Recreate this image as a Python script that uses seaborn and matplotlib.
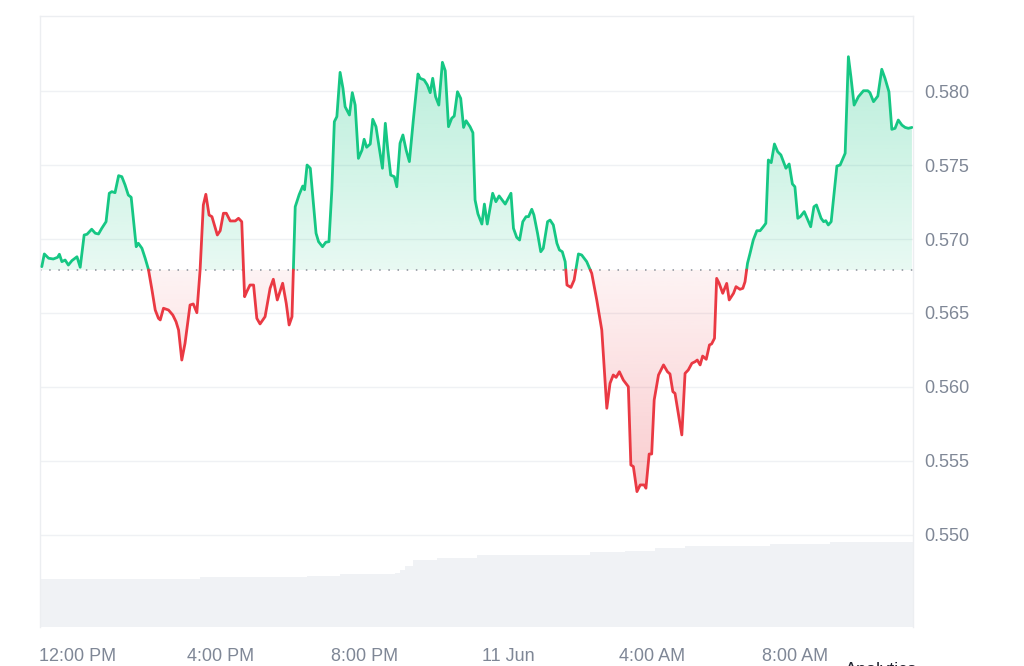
import numpy as np
import pandas as pd
import matplotlib
matplotlib.use("Agg")
import matplotlib.pyplot as plt
import matplotlib.colors as mcolors
from matplotlib.path import Path
import seaborn as sns

# hours since 10 Jun 00:00, price in USD
hours = [11.01, 11.08, 11.20, 11.33, 11.45, 11.50, 11.57, 11.66, 11.75, 11.85,
         11.99, 12.08, 12.19, 12.27, 12.40, 12.50, 12.59, 12.68, 12.80, 12.89,
         12.96, 13.05, 13.15, 13.24, 13.33, 13.42, 13.50, 13.64, 13.70, 13.80,
         13.89, 13.98, 14.08, 14.17, 14.26, 14.31, 14.40, 14.54, 14.66, 14.75,
         14.82, 14.91, 15.00, 15.14, 15.23, 15.33, 15.42, 15.51, 15.58, 15.67,
         15.75, 15.90, 15.98, 16.07, 16.15, 16.26, 16.40, 16.49, 16.58, 16.63,
         16.66, 16.72, 16.81, 16.91, 17.00, 17.09, 17.23, 17.37, 17.46, 17.57,
         17.72, 17.82, 17.90, 17.98, 18.07, 18.18, 18.28, 18.33, 18.40, 18.49,
         18.65, 18.72, 18.83, 18.92, 19.01, 19.09, 19.16, 19.23, 19.32, 19.40,
         19.46, 19.58, 19.66, 19.74, 19.83, 19.93, 19.99, 20.06, 20.16, 20.23,
         20.32, 20.42, 20.50, 20.58, 20.65, 20.73, 20.83, 20.90, 20.99, 21.07,
         21.16, 21.25, 21.36, 21.49, 21.55, 21.66, 21.75, 21.83, 21.90, 21.98,
         22.07, 22.17, 22.25, 22.34, 22.43, 22.50, 22.59, 22.68, 22.76, 22.83,
         22.94, 23.02, 23.08, 23.16, 23.27, 23.34, 23.42, 23.57, 23.66, 23.75,
         23.92, 24.08, 24.15, 24.24, 24.32, 24.41, 24.50, 24.57, 24.66, 24.72,
         24.82, 24.91, 24.98, 25.10, 25.17, 25.26, 25.36, 25.43, 25.51, 25.59,
         25.64, 25.75, 25.84, 25.96, 26.05, 26.19, 26.33, 26.47, 26.61, 26.75,
         26.84, 26.93, 27.01, 27.10, 27.21, 27.35, 27.42, 27.49, 27.59, 27.68,
         27.79, 27.84, 27.93, 28.00, 28.07, 28.19, 28.33, 28.44, 28.51, 28.59,
         28.65, 28.84, 28.93, 29.02, 29.12, 29.21, 29.27, 29.35, 29.42, 29.52,
         29.61, 29.67, 29.75, 29.81, 29.88, 29.98, 30.09, 30.16, 30.28, 30.35,
         30.46, 30.54, 30.60, 30.67, 30.74, 30.83, 30.93, 31.02, 31.11, 31.18,
         31.25, 31.33, 31.42, 31.51, 31.60, 31.74, 31.83, 31.92, 31.99, 32.07,
         32.14, 32.25, 32.43, 32.52, 32.59, 32.72, 32.79, 32.85, 32.92, 33.00,
         33.16, 33.25, 33.39, 33.48, 33.55, 33.64, 33.76, 33.90, 34.02, 34.08,
         34.18, 34.30, 34.41, 34.50, 34.61, 34.69, 34.78, 34.87, 34.97, 35.06,
         35.15, 35.25]
price = [0.56813, 0.56899, 0.56870, 0.56865, 0.56876, 0.56897, 0.56847, 0.56858, 0.56824, 0.56854,
         0.56880, 0.56809, 0.57027, 0.57032, 0.57066, 0.57039, 0.57034, 0.57072, 0.57117, 0.57309,
         0.57320, 0.57313, 0.57428, 0.57421, 0.57365, 0.57297, 0.57282, 0.56948, 0.56971, 0.56937,
         0.56870, 0.56795, 0.56655, 0.56520, 0.56464, 0.56453, 0.56532, 0.56520, 0.56486, 0.56441,
         0.56385, 0.56182, 0.56295, 0.56554, 0.56561, 0.56502, 0.56791, 0.57230, 0.57302, 0.57162,
         0.57151, 0.57027, 0.57056, 0.57174, 0.57174, 0.57122, 0.57122, 0.57140, 0.57117, 0.56791,
         0.56610, 0.56644, 0.56689, 0.56689, 0.56464, 0.56426, 0.56475, 0.56667, 0.56728, 0.56588,
         0.56701, 0.56565, 0.56419, 0.56475, 0.57218, 0.57300, 0.57358, 0.57333, 0.57500, 0.57478,
         0.57039, 0.56982, 0.56948, 0.56978, 0.56982, 0.57331, 0.57793, 0.57827, 0.58126, 0.58018,
         0.57894, 0.57838, 0.57989, 0.57905, 0.57545, 0.57601, 0.57674, 0.57620, 0.57642, 0.57809,
         0.57759, 0.57601, 0.57478, 0.57782, 0.57601, 0.57432, 0.57421, 0.57353, 0.57647, 0.57703,
         0.57601, 0.57523, 0.57804, 0.58115, 0.58086, 0.58075, 0.58041, 0.57989, 0.58086, 0.57962,
         0.57905, 0.58194, 0.58137, 0.57759, 0.57816, 0.57831, 0.57995, 0.57950, 0.57754, 0.57799,
         0.57759, 0.57718, 0.57264, 0.57170, 0.57101, 0.57236, 0.57101, 0.57309, 0.57252, 0.57291,
         0.57236, 0.57309, 0.57072, 0.57011, 0.56993, 0.57117, 0.57151, 0.57151, 0.57201, 0.57162,
         0.57039, 0.56914, 0.56937, 0.57117, 0.57128, 0.57095, 0.56971, 0.56926, 0.56914, 0.56847,
         0.56689, 0.56673, 0.56723, 0.56899, 0.56892, 0.56847, 0.56768, 0.56588, 0.56385, 0.55856,
         0.56025, 0.56081, 0.56065, 0.56103, 0.56047, 0.56002, 0.55473, 0.55462, 0.55293, 0.55338,
         0.55338, 0.55316, 0.55547, 0.55547, 0.55912, 0.56081, 0.56149, 0.56103, 0.56088, 0.55968,
         0.55957, 0.55676, 0.56092, 0.56115, 0.56160, 0.56171, 0.56182, 0.56149, 0.56209, 0.56187,
         0.56284, 0.56291, 0.56329, 0.56734, 0.56700, 0.56633, 0.56700, 0.56588, 0.56633, 0.56678,
         0.56660, 0.56667, 0.56711, 0.56836, 0.56903, 0.56993, 0.57056, 0.57056, 0.57083, 0.57106,
         0.57534, 0.57516, 0.57642, 0.57590, 0.57568, 0.57478, 0.57507, 0.57372, 0.57353, 0.57140,
         0.57151, 0.57185, 0.57083, 0.57218, 0.57230, 0.57140, 0.57117, 0.57124, 0.57095, 0.57117,
         0.57493, 0.57500, 0.57579, 0.58232, 0.58097, 0.57905, 0.57962, 0.58002, 0.58002, 0.57989,
         0.57928, 0.57966, 0.58147, 0.58086, 0.57995, 0.57741, 0.57748, 0.57804, 0.57770, 0.57754,
         0.57748, 0.57754]
open_price = 0.56791   # reference level (dotted line)

# volume (relative), stepwise
vol_start = [10.96, 15.42, 18.40, 19.32, 20.85, 20.99, 21.13, 21.35, 22.02, 23.14,
             26.28, 27.26, 28.09, 28.93, 31.30, 32.97]
vol_end = [15.42, 18.40, 19.32, 20.85, 20.99, 21.13, 21.35, 22.02, 23.14, 26.28,
           27.26, 28.09, 28.93, 31.30, 32.97, 35.28]
vol_level = [47.7, 49.7, 50.7, 52.7, 54.0, 57.0, 61.0, 67.0, 69.3, 71.7,
             74.7, 76.3, 78.7, 81.3, 83.0, 84.7]

tick_hours = [12, 16, 20, 24, 28, 32]
tick_labels = ["12:00 PM", "4:00 PM", "8:00 PM", "11 Jun", "4:00 AM", "8:00 AM"]
price_ticks = [0.550, 0.555, 0.560, 0.565, 0.570, 0.575, 0.580]

GREEN = "#16c784"
RED = "#ea3943"
GREY_TXT = "#7f8796"

sns.set_theme(style="white")
plt.rcParams["font.family"] = ["Liberation Sans", "DejaVu Sans"]

# --- insert crossing points so the colour switch lands on the reference line
t = np.array(hours)
p = np.array(price)
xs, ys, cross = [t[0]], [p[0]], [False]
for i in range(1, len(t)):
    a, b = p[i - 1] - open_price, p[i] - open_price
    if a * b < 0:
        xs.append(t[i - 1] + (t[i] - t[i - 1]) * a / (a - b))
        ys.append(open_price)
        cross.append(True)
    xs.append(t[i]); ys.append(p[i]); cross.append(False)
xs, ys = np.array(xs), np.array(ys)

rows = []
seg = 0
side = "up" if ys[0] >= open_price else "down"
for x, y, c in zip(xs, ys, cross):
    rows.append((x, y, seg, side))
    if c:
        seg += 1
        side = "down" if side == "up" else "up"
        rows.append((x, y, seg, side))
df = pd.DataFrame(rows, columns=["hour", "price", "seg", "side"])

fig = plt.figure(figsize=(10.24, 6.66), dpi=100)
ax = fig.add_axes([40 / 1024, 1 - 627 / 666, 873 / 1024, 611 / 666])
ax2 = ax.twinx()
ax.set_zorder(ax2.get_zorder() + 1)
ax.patch.set_visible(False)

# volume bars
ax2.bar(vol_start, vol_level, width=np.array(vol_end) - np.array(vol_start),
        align="edge", color="#f0f2f5", edgecolor="none")
ax2.set_ylim(0, 611)
ax2.set_yticks([])
for s in ax2.spines.values():
    s.set_visible(False)

xlim = (10.96, 35.28)
ylim = (0.54378, 0.58507)

# gradient fills clipped to the area between price and reference level
def gradient_fill(poly, color, a_top, a_bot, y_bot, y_top):
    grad = np.zeros((256, 1, 4))
    grad[..., :3] = mcolors.to_rgb(color)
    grad[..., 3] = np.linspace(a_top, a_bot, 256)[:, None]
    im = ax.imshow(grad, extent=[xlim[0], xlim[1], y_bot, y_top], aspect="auto",
                   origin="upper", zorder=1)
    clip = Path.make_compound_path(*poly.get_paths())
    im.set_clip_path(clip, transform=ax.transData)
    poly.set_visible(False)

up_poly = ax.fill_between(xs, ys, open_price, where=ys >= open_price, color=GREEN,
                          interpolate=True, linewidth=0)
down_poly = ax.fill_between(xs, ys, open_price, where=ys <= open_price, color=RED,
                            interpolate=True, linewidth=0)
gradient_fill(up_poly, GREEN, 0.30, 0.10, open_price, 0.5825)
gradient_fill(down_poly, RED, 0.06, 0.26, 0.5529, open_price)

ax.axhline(open_price, color="#8a8f99", lw=1.1, ls=(0, (1, 5)), zorder=2)

sns.lineplot(data=df, x="hour", y="price", hue="side", units="seg", estimator=None,
             sort=False, palette={"up": GREEN, "down": RED}, linewidth=2.0,
             legend=False, ax=ax, zorder=3)

ax.set_xlim(*xlim)
ax.set_ylim(*ylim)
ax.set_xlabel("")
ax.set_ylabel("")

ax.set_yticks(price_ticks)
ax.set_yticklabels([f"{v:.3f}" for v in price_ticks])
ax.yaxis.tick_right()
ax.grid(axis="y", color="#eff1f4", lw=1)
ax.grid(axis="x", visible=False)
ax.set_xticks(tick_hours)
ax.set_xticklabels(tick_labels)
ax.tick_params(axis="both", length=0, labelsize=13, labelcolor=GREY_TXT)
ax.tick_params(axis="y", pad=8)
ax.tick_params(axis="x", pad=15)
for name, s in ax.spines.items():
    s.set_color("#eceef1")
    s.set_linewidth(1)
ax.spines["bottom"].set_visible(False)

fig.text(845 / 1024, 1 - 662 / 666, "Analytics", fontsize=13, color="#222531", va="top")

fig.savefig("out.png", dpi=100)
